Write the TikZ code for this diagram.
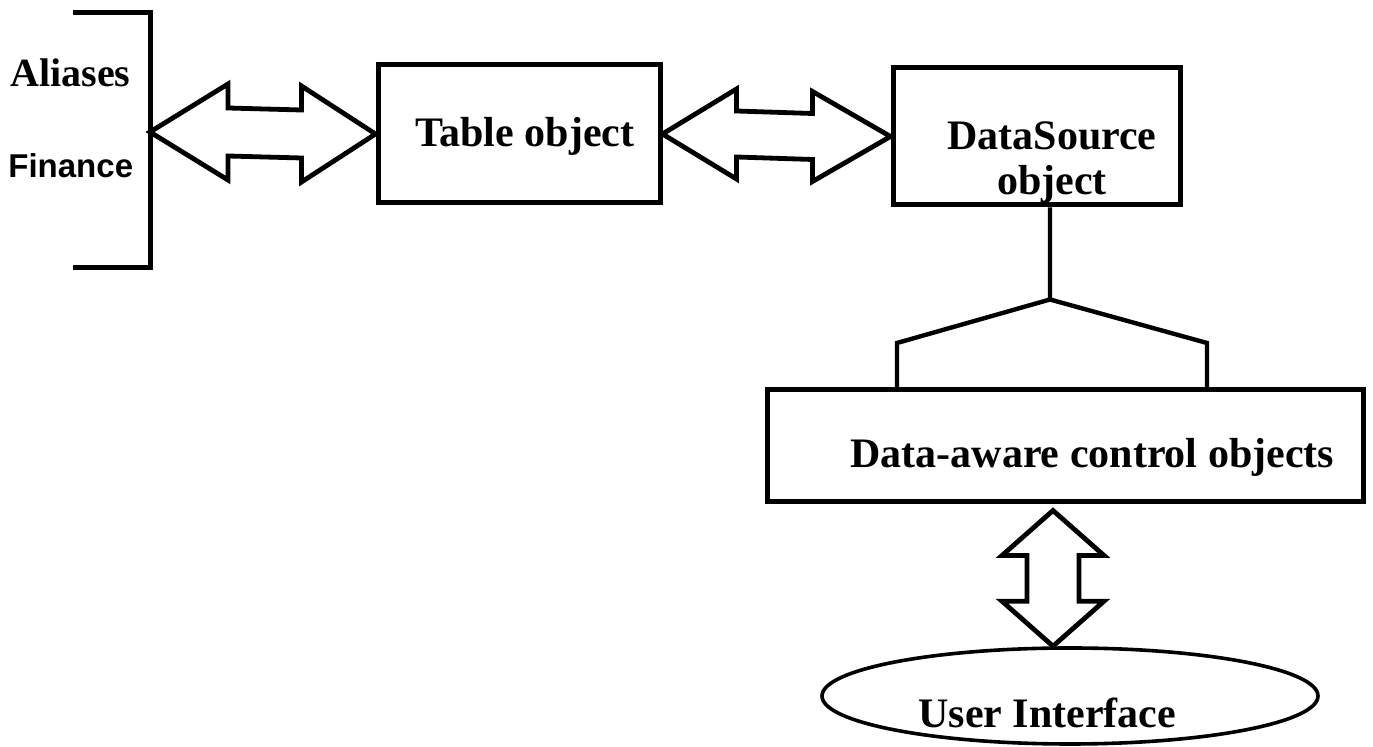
\documentclass[tikz,border=0pt]{standalone}
\usepackage{fontspec}
\setmainfont{Liberation Serif}
\newfontfamily\finsans{Liberation Sans}
\usetikzlibrary{calc,shapes.geometric}
\tikzset{
    box/.style = {draw, rectangle, line width=2.5pt, inner sep=0pt},
    oval/.style = {draw, ellipse, line width=1.8pt, inner sep=0pt},
    fatarrow/.style = {draw, line width=2.4pt, line join=miter},
    wire/.style = {draw, line width=2.2pt},
    lbl/.style = {inner sep=0pt, font=\fontsize{21}{22.5}\selectfont\bfseries}
}

\begin{document}
\begin{tikzpicture}[x=0.5pt,y=-0.5pt]
    \useasboundingbox (0,0) rectangle (1373,747);
    % boxes
    \node[box, minimum width=141pt, minimum height=69pt] (table) at (519,134) {};
    \node[box, minimum width=143.5pt, minimum height=68.5pt] (dsrc) at (1036.5,136.5) {};
    \node[box, minimum width=298pt, minimum height=56pt] (dactl) at (1065,446) {};
    \node[oval, minimum width=248pt, minimum height=48pt] (ui) at (1070,696) {};
    % texts
    \node[lbl, anchor=base west] (tabletxt) at (415,147) {Table object};
    \node[lbl, align=center] (dsrctxt) at (1052,163) {DataSource\\object};
    \node[lbl, anchor=base west] (dactltxt) at (850,468) {Data-aware control objects};
    \node[lbl, anchor=base west] (uitxt) at (918,728) {User Interface};
    \node[lbl, font=\fontsize{20}{24}\selectfont\bfseries, anchor=base west] (alias) at (10,87) {Aliases};
    \node[lbl, font=\fontsize{16.5}{20}\selectfont\finsans\bfseries, anchor=base west] (fin) at (8,178) {Finance};
    % bracket
    \coordinate (brk) at (150,132);
    \draw[wire, line width=2.5pt] (73,13) -| (brk) |- (73,268);
    % double arrows
    \draw[fatarrow] (brk) -- ++(78,-48) -- ++(0,24) -- ($(table.west)+(-74,-24)$) -- ++(0,-24) -- (table.west)
        -- ++(-74,48) -- ++(0,-24) -- ($(brk)+(78,24)$) -- ++(0,24) -- cycle;
    \draw[fatarrow] (table.east) -- ++(74,-45) -- ++(0,22) -- ($(dsrc.west)+(-78,-23)$) -- ++(0,-22) -- (dsrc.west)
        -- ++(-78,45) -- ++(0,-22) -- ($(table.east)+(74,23)$) -- ++(0,22) -- cycle;
    \coordinate (vt) at ($(dactl.south)+(-12,6)$);
    \coordinate (vb) at ($(ui.north)+(-17,0)$);
    \draw[fatarrow] (vt) -- ++(51,45) -- ++(-25,0) -- ($(vb)+(26,-45)$) -- ++(25,0) -- (vb)
        -- ++(-51,-45) -- ++(25,0) -- ($(vt)+(-26,45)$) -- ++(-25,0) -- cycle;
    % fork from DataSource down to the controls
    \coordinate (apex) at ($(dsrc.south)+(13.5,92)$);
    \coordinate (shl) at (897,343);
    \coordinate (shr) at (1207,343);
    \draw[wire] (shl |- dactl.north) -- (shl) -- (apex) -- (shr) -- (shr |- dactl.north)
        (apex) -- (apex |- dsrc.south);
\end{tikzpicture}
\end{document}
